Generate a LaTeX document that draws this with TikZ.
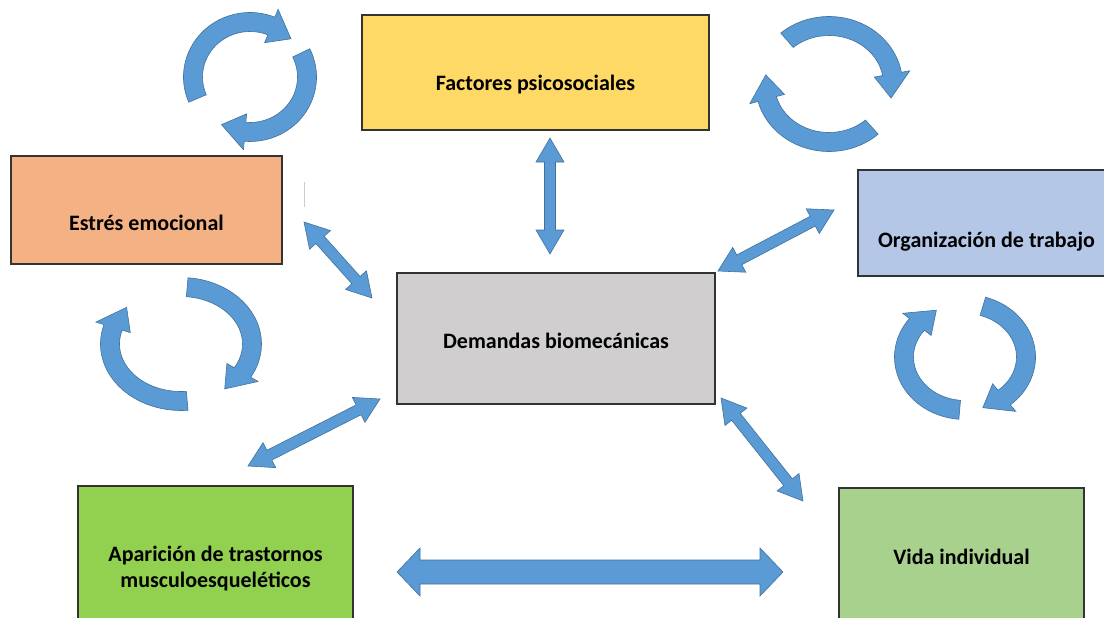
\documentclass[tikz,border=0pt]{standalone}
\usepackage{fontspec}
\setmainfont{Carlito}
\usetikzlibrary{calc}

\definecolor{psicol}{HTML}{FFD966}
\definecolor{estrescol}{HTML}{F4B183}
\definecolor{orgcol}{HTML}{B4C7E7}
\definecolor{demcol}{HTML}{D0CECE}
\definecolor{aparcol}{HTML}{92D050}
\definecolor{vidacol}{HTML}{A9D18E}
\definecolor{arrowfill}{HTML}{5B9BD5}
\definecolor{arrowedge}{HTML}{41719C}

% double block arrow: from, to, head length, head half width, shaft half width
\newcommand\dblarrow[5]{%
  \filldraw[blockarrow] (#1) -- ($(#1)!#3!(#2)!#4!90:(#2)$) -- ($(#1)!#3!(#2)!#5!90:(#2)$)
    -- ($(#2)!#3!(#1)!#5!-90:(#1)$) -- ($(#2)!#3!(#1)!#4!-90:(#1)$) -- (#2)
    -- ($(#2)!#3!(#1)!#4!90:(#1)$) -- ($(#2)!#3!(#1)!#5!90:(#1)$)
    -- ($(#1)!#3!(#2)!#5!-90:(#2)$) -- ($(#1)!#3!(#2)!#4!-90:(#2)$) -- cycle;}

% curved arrow: centre, x radius, y radius, tail angle, head angle, tip angle
\newcommand\cyclearrow[6]{%
  \pgfmathsetmacro\rxo{#2+9.5}\pgfmathsetmacro\ryo{#3+9.5}%
  \pgfmathsetmacro\rxi{#2-9.5}\pgfmathsetmacro\ryi{#3-9.5}%
  \pgfmathsetmacro\rxho{#2+18}\pgfmathsetmacro\ryho{#3+18}%
  \pgfmathsetmacro\rxhi{#2-18}\pgfmathsetmacro\ryhi{#3-18}%
  \begin{scope}[shift={(#1)}]
    \filldraw[blockarrow] ({\rxo*cos(#4)},{\ryo*sin(#4)})
      arc[start angle=#4, end angle=#5, x radius=\rxo, y radius=\ryo]
      -- ({\rxho*cos(#5)},{\ryho*sin(#5)}) -- ({#2*cos(#6)},{#3*sin(#6)})
      -- ({\rxhi*cos(#5)},{\ryhi*sin(#5)}) -- ({\rxi*cos(#5)},{\ryi*sin(#5)})
      arc[start angle=#5, end angle=#4, x radius=\rxi, y radius=\ryi] -- cycle;
  \end{scope}}

\begin{document}
\begin{tikzpicture}[
    x=1pt, y=-1pt,
    block/.style={rectangle, draw=black!80, line width=1.2pt, inner sep=0pt},
    boxtext/.style={anchor=base, align=center, inner sep=0pt,
      font=\bfseries\fontsize{22pt}{26pt}\selectfont},
    blockarrow/.style={fill=arrowfill, draw=arrowedge, line width=0.6pt, line join=miter}
]
    \clip (0,0) rectangle (1104,618);

    % Boxes
    \node [block, fill=psicol, minimum width=347pt, minimum height=115pt] (fact) at (535.5,72.5) {};
    \node [block, fill=estrescol, minimum width=271pt, minimum height=108pt] (estres) at (146.5,210) {};
    \node [block, fill=orgcol, minimum width=257pt, minimum height=106pt] (org) at (986.5,223) {};
    \node [block, fill=demcol, minimum width=318pt, minimum height=131pt] (dem) at (556,338.5) {};
    \node [block, fill=aparcol, minimum width=275pt, minimum height=164pt] (apar) at (215.5,568) {};
    \node [block, fill=vidacol, minimum width=245pt, minimum height=162pt] (vida) at (961.5,569) {};

    \node [boxtext] (fact-t) at ([yshift=-18.5pt]fact.center) {Factores psicosociales};
    \node [boxtext] (estres-t) at ([yshift=-20pt]estres.center) {Estrés emocional};
    \node [boxtext] (org-t) at ([yshift=-24pt]org.center) {Organización de trabajo};
    \node [boxtext] (dem-t) at ([yshift=-9.5pt]dem.center) {Demandas biomecánicas};
    \node [boxtext] (apar-t) at ([yshift=-102pt]apar.north) {Aparición de trastornos\\musculoesqueléticos};
    \node [boxtext] (vida-t) at ([yshift=-77pt]vida.north) {Vida individual};

    % Arrow ends
    \coordinate (fd-a) at (550,138);  \coordinate (fd-b) at (550,254);
    \coordinate (ed-a) at (304,222);  \coordinate (ed-b) at (372,298);
    \coordinate (do-a) at (718,271);  \coordinate (do-b) at (834,210);
    \coordinate (ad-a) at (248,466);  \coordinate (ad-b) at (380,399);
    \coordinate (dv-a) at (721,398);  \coordinate (dv-b) at (803,501);
    \coordinate (av-a) at (397,572);  \coordinate (av-b) at (783,572);

    % Connections
    \dblarrow{fd-a}{fd-b}{24pt}{14pt}{5.5pt}
    \dblarrow{ed-a}{ed-b}{24pt}{14pt}{5.5pt}
    \dblarrow{do-a}{do-b}{24pt}{14pt}{5.5pt}
    \dblarrow{ad-a}{ad-b}{24pt}{14pt}{5.5pt}
    \dblarrow{dv-a}{dv-b}{24pt}{14pt}{5.5pt}
    \dblarrow{av-a}{av-b}{23pt}{24pt}{12pt}

    % Cycles
    \cyclearrow{250,77}{57}{55}{157}{292}{316}
    \cyclearrow{250,77}{57}{55}{334}{455}{480}
    \cyclearrow{829,84}{64}{58}{229}{350}{374}
    \cyclearrow{829,84}{64}{58}{48}{165}{189}
    \cyclearrow{181,344}{71}{57}{85}{197}{220}
    \cyclearrow{181,344}{71}{57}{275}{390}{412}
    \cyclearrow{965,357}{61}{53}{95}{218}{242}
    \cyclearrow{965,357}{61}{53}{287}{410}{433}

    \draw [black!20, line width=1pt] (304,182) -- (304,207);

\end{tikzpicture}
\end{document}
